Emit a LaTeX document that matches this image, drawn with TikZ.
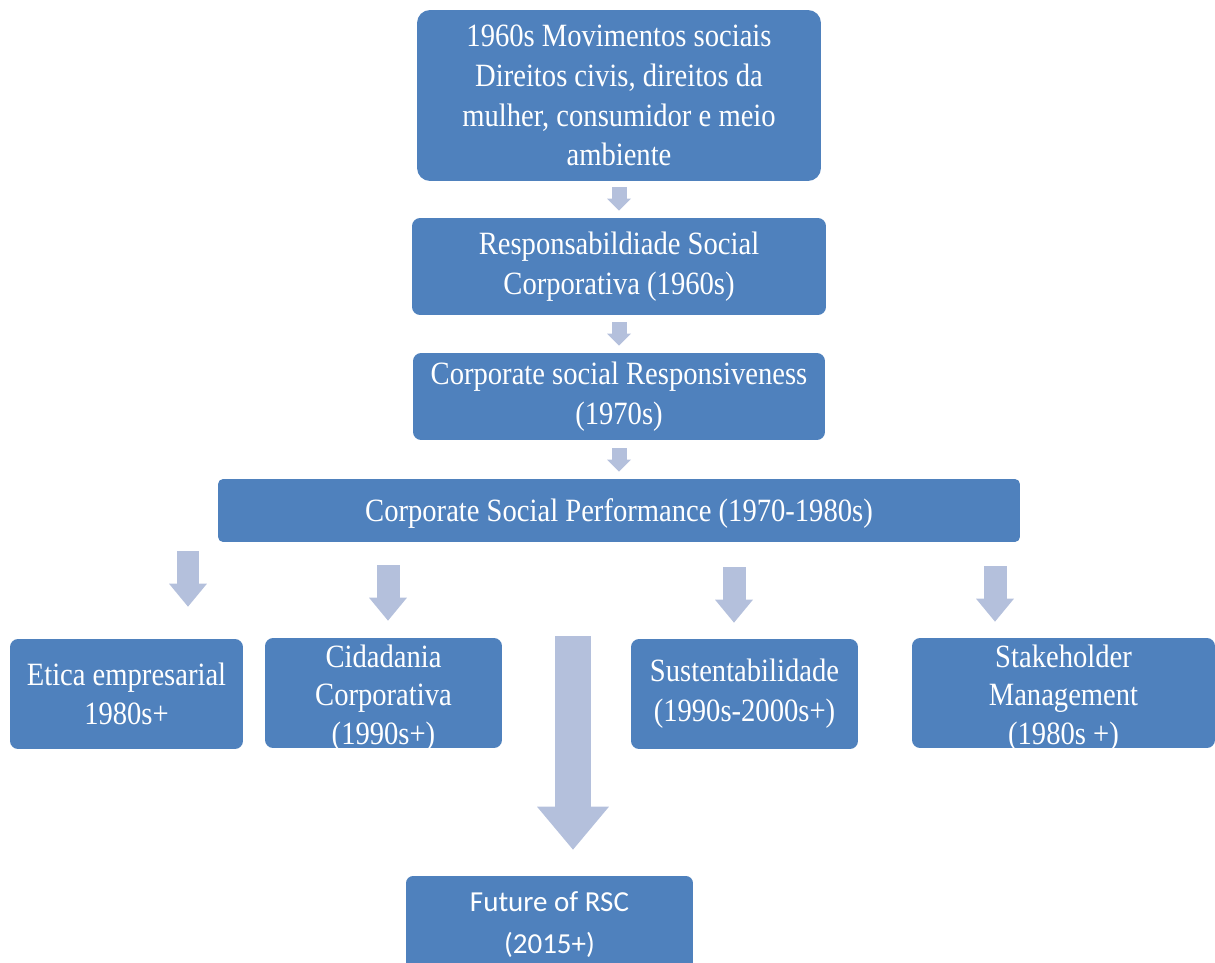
\documentclass[tikz,border=0pt]{standalone}
\usepackage{fontspec}
\setmainfont{Liberation Serif}[FakeStretch=0.88]
\newfontfamily\calfont{Carlito}
\usetikzlibrary{arrows.meta,positioning}
\definecolor{BoxBlue}{HTML}{4F81BD}
\definecolor{ArrowBlue}{HTML}{B4C0DC}

\begin{document}
\begin{tikzpicture}[x=0.02cm,y=-0.02cm,
  box/.style={fill=BoxBlue,text=white,rounded corners=0.16cm,inner sep=0pt,align=center,font=\fontsize{18.5}{22.6}\selectfont},
  boxtext/.style={text=white,inner sep=0pt,align=center,font=\fontsize{18.5}{22}\selectfont},
  smallarrow/.style={draw=ArrowBlue,line width=0.3cm,-{Triangle[width=0.48cm,length=0.24cm,line width=0pt]}},
  midarrow/.style={draw=ArrowBlue,line width=0.46cm,-{Triangle[width=0.76cm,length=0.46cm,line width=0pt]}},
  bigarrow/.style={draw=ArrowBlue,line width=0.72cm,-{Triangle[width=1.44cm,length=0.86cm,line width=0pt]}}
]
\clip (0,0) rectangle (1215,963);
% chain at the top
\node[box,rounded corners=0.26cm,minimum width=8.08cm,minimum height=3.42cm] (mov) at (619,95.5)
  {1960s Movimentos sociais\\ Direitos civis, direitos da\\ mulher, consumidor e meio\\ ambiente};
\node[box,minimum width=8.28cm,minimum height=1.94cm] (rsc) at (619,266.5)
  {Responsabildiade Social\\ Corporativa (1960s)};
\node[box,minimum width=8.24cm,minimum height=1.74cm] (resp) at (619,396.5)
  {Corporate social Responsiveness\\ (1970s)};
\node[box,rounded corners=0.1cm,text depth=0pt,minimum width=16.04cm,minimum height=1.26cm] (perf) at (619,510.5)
  {Corporate Social Performance (1970-1980s)};

% branches
\node[box,minimum width=4.66cm,minimum height=2.2cm] (etica) at (126.5,694)
  {Etica empresarial\\ 1980s+};
\node[box,minimum width=4.74cm,minimum height=2.2cm] (cid) at (383.5,693) {};
\node[boxtext] (cid-t) at (383.5,698) {Cidadania\\ Corporativa\\ (1990s+)};
\node[box,minimum width=4.54cm,minimum height=2.2cm] (sust) at (744.5,694)
  {Sustentabilidade\\ (1990s-2000s+)};
\node[box,minimum width=6.06cm,minimum height=2.2cm] (stake) at (1063.5,693) {};
\node[boxtext] (stake-t) at (1063.5,698) {Stakeholder\\ Management\\ (1980s +)};
\node[box,rounded corners=0.14cm,minimum width=5.74cm,minimum height=1.96cm,font=\calfont\fontsize{16.5}{23.9}\selectfont] (future) at (549.5,925)
  {Future of RSC\\ (2015+)};

\draw[smallarrow] ([yshift=-0.12cm]mov.south) -- ([yshift=0.14cm]rsc.north);
\draw[smallarrow] ([yshift=-0.14cm]rsc.south) -- ([yshift=0.14cm]resp.north);
\draw[smallarrow] ([yshift=-0.16cm]resp.south) -- ([yshift=0.14cm]perf.north);

\coordinate (d1) at (188,551);
\coordinate (d2) at (388,565);
\coordinate (d3) at (734,567);
\coordinate (d4) at (995,566);
\coordinate (d5) at (573,636);
\draw[midarrow] (d1) -- ([yshift=0.64cm]d1 |- etica.north);
\draw[midarrow] (d2) -- ([yshift=0.34cm]d2 |- cid.north);
\draw[midarrow] (d3) -- ([yshift=0.32cm]d3 |- sust.north);
\draw[midarrow] (d4) -- ([yshift=0.32cm]d4 |- stake.north);
\draw[bigarrow] (d5) -- ([yshift=0.52cm]d5 |- future.north);
\end{tikzpicture}
\end{document}
